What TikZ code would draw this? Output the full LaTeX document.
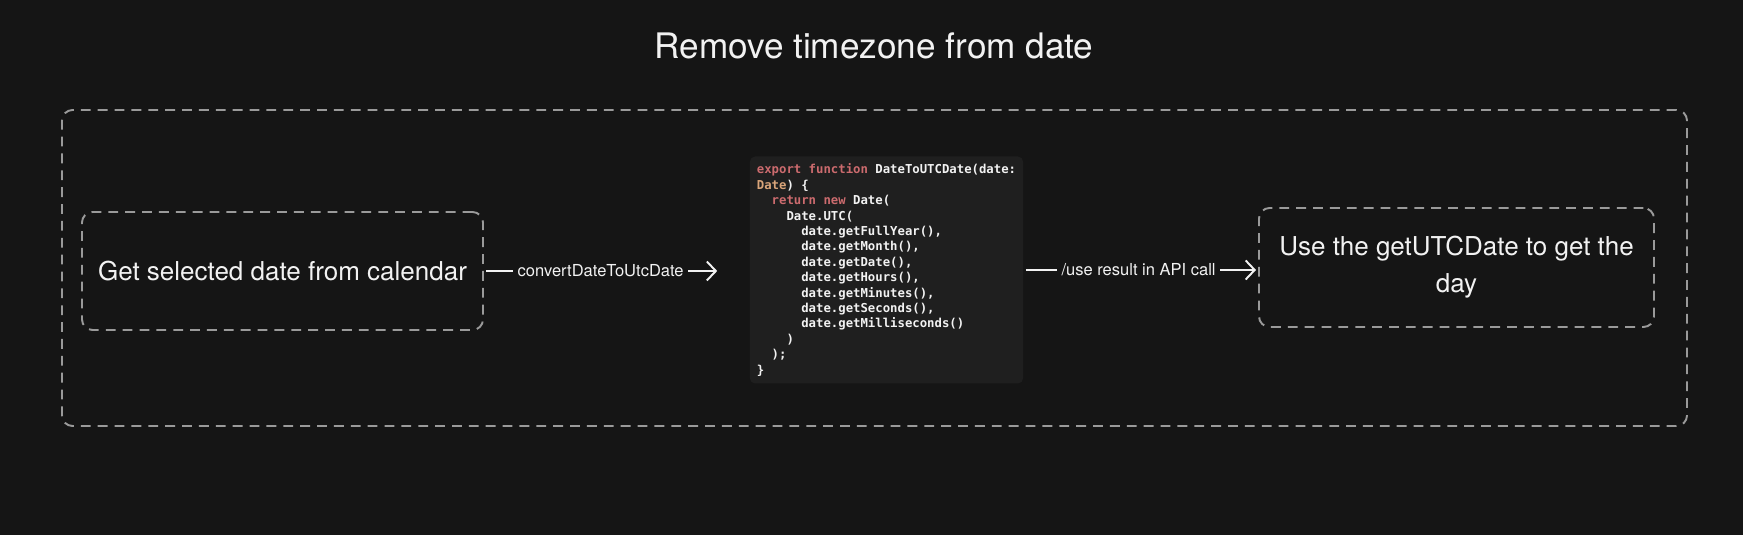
\documentclass[tikz,border=0pt]{standalone}
\usepackage{fontspec}
\setmainfont{TeX Gyre Heros}
\newfontfamily\codefont{DejaVu Sans Mono}
\usetikzlibrary{positioning,arrows.meta}
\definecolor{bg}{HTML}{151515}
\definecolor{codebg}{HTML}{1F1F1F}
\definecolor{frame}{HTML}{9A9A9A}
\definecolor{txt}{HTML}{F2F2F2}
\definecolor{kwc}{HTML}{CC6B6E}
\definecolor{tyc}{HTML}{D9A57A}
\newcommand\kw[1]{\textcolor{kwc}{#1}}
\newcommand\ty[1]{\textcolor{tyc}{#1}}
\newcommand\ind[1]{\hspace*{#1\fontcharwd\font`x}}
\hyphenpenalty=10000
\exhyphenpenalty=10000

\begin{document}
\begin{tikzpicture}[
  >={Straight Barb[length=0.9mm,width=1.9mm]},
  dashbox/.style={draw=frame,dash pattern=on 2.8pt off 2pt,line width=0.55pt,
                  rounded corners=3pt,align=flush center,text=txt,inner sep=0pt},
  stepbox/.style={dashbox,font=\fontsize{7.4}{10.5}\selectfont},
  code/.style={fill=codebg,rounded corners=1.5pt,align=left,text=txt,
               font=\codefont\bfseries\fontsize{3.5}{4.38}\selectfont,
               inner xsep=0.07cm,inner ysep=0pt,minimum width=2.73cm,
               minimum height=2.27cm},
  lbl/.style={fill=bg,text=txt,font=\fontsize{4.7}{5.5}\selectfont,inner xsep=1.3pt},
  fl/.style={->,draw=txt,line width=0.55pt},
]
\fill[bg] (0,0) rectangle (17.43,5.35);
\useasboundingbox (0,0) rectangle (17.43,5.35);

%---------------------------------------------------------------- title ---
\node[text=txt,font=\fontsize{10}{12}\selectfont] (title) at (8.74,4.89)
  {Remove timezone from date};

%---------------------------------------------------------------- frame ---
\node[dashbox,minimum width=16.25cm,minimum height=3.16cm] (frame) at (8.745,2.67) {};

%---------------------------------------------------------------- steps ---
\node[stepbox,minimum width=4.01cm,minimum height=1.18cm] (pick) at (2.825,2.64)
  {Get selected date from calendar};
\node[stepbox,minimum width=3.95cm,minimum height=1.19cm,text width=3.7cm] (useutc)
  at (14.565,2.675) {Use the getUTCDate to get the day};

%----------------------------------------------------------------- code ---
\node[code] (code) at (8.865,2.65) {%
  \kw{export function} DateToUTCDate(date:\\
  \ty{Date}) \{\\
  \ind{2}\kw{return new} Date(\\
  \ind{4}Date.UTC(\\
  \ind{6}date.getFullYear(),\\
  \ind{6}date.getMonth(),\\
  \ind{6}date.getDate(),\\
  \ind{6}date.getHours(),\\
  \ind{6}date.getMinutes(),\\
  \ind{6}date.getSeconds(),\\
  \ind{6}date.getMilliseconds()\\
  \ind{4})\\
  \ind{2});\\
  \}};

%--------------------------------------------------------------- arrows ---
\draw[fl,shorten <=0.02cm,shorten >=0.32cm] (pick.east) --
  node[lbl,pos=0.44] (lconv) {convertDateToUtcDate} (pick.east -| code.west);
\draw[fl,shorten <=0.02cm,shorten >=0.02cm] (code.east) --
  node[lbl,pos=0.49] (lapi) {/use result in API call} (code.east -| useutc.west);

\end{tikzpicture}
\end{document}
